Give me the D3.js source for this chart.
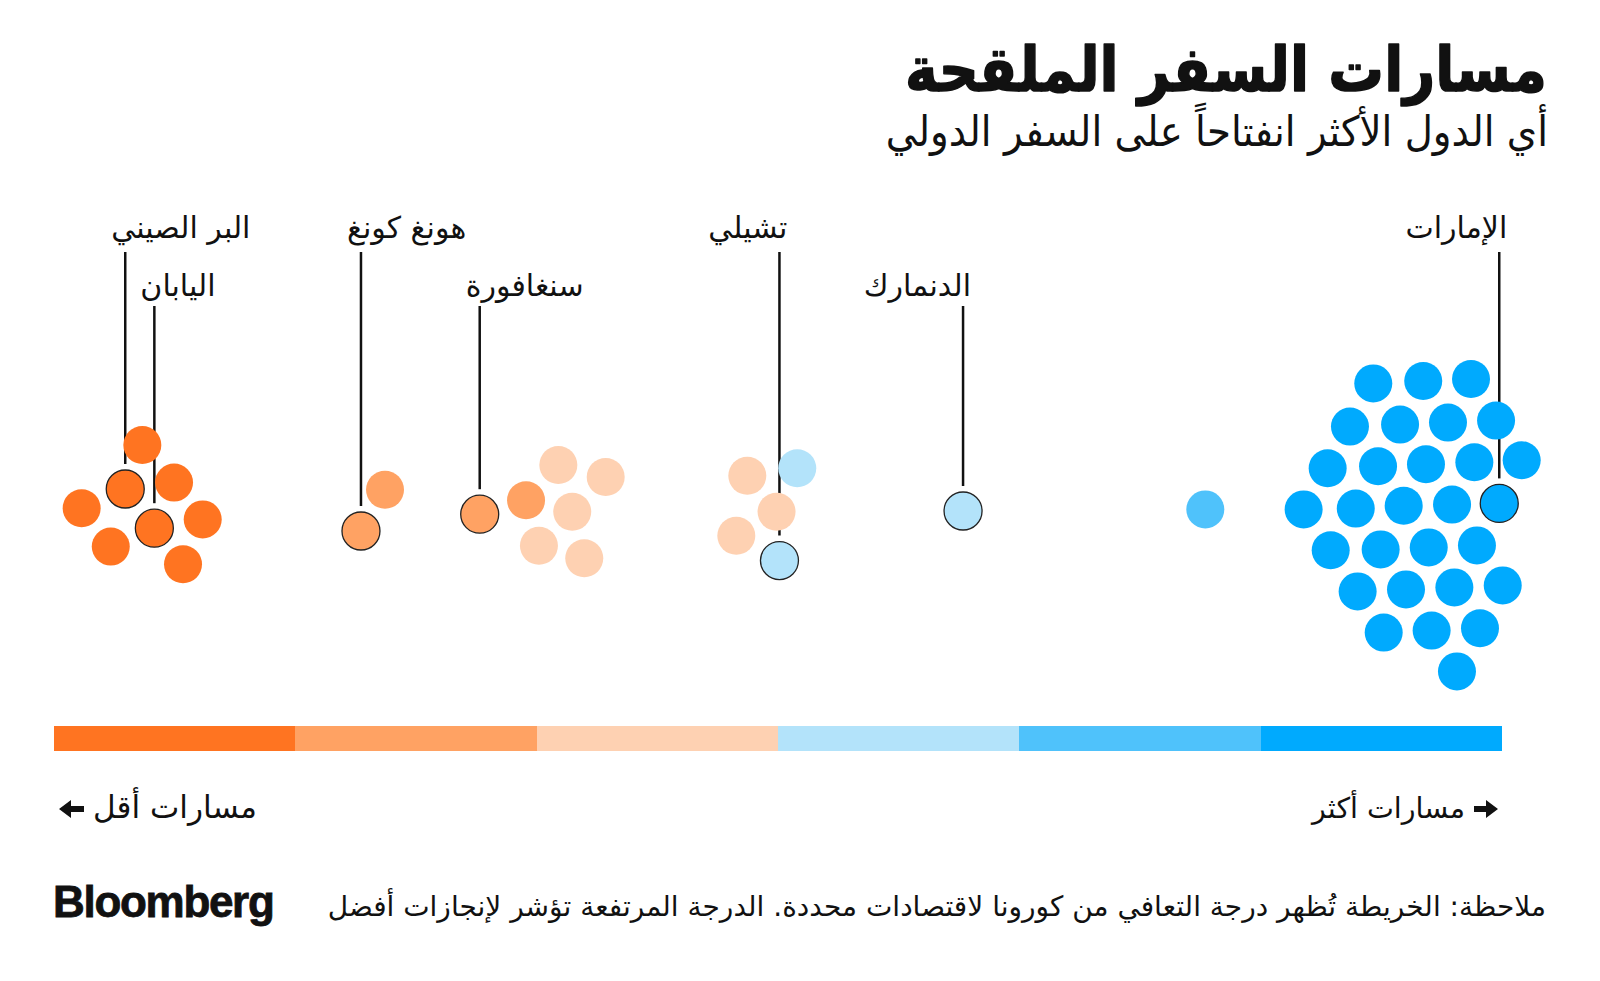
<!DOCTYPE html>
<html><head><meta charset="utf-8">
<script src="https://cdn.jsdelivr.net/npm/d3@7"></script>
<style>body{margin:0;background:#fff}text{font-family:"DejaVu Sans",sans-serif;fill:#111}</style>
</head><body><svg id="c" width="1600" height="981"></svg>
<script>
// ---- data ----
const binColors = ["#FF7421", "#FFA263", "#FED1B2", "#B3E3FA", "#4FC2FB", "#00AAFE"];
const scores = [6.10, 4.92, 8.29, 1.91, 6.93, 10.27, 3.92, 8.91,
  21.20, 22.86, 29.40, 32.60,
  34.83, 38.10, 35.79, 33.49, 36.62, 47.88, 49.90, 47.12,
  51.33, 50.10, 62.78,
  79.51,
  91.11, 94.56, 97.86,
  89.50, 92.96, 96.27, 99.59,
  87.96, 91.44, 94.75, 98.09, 101.36,
  86.30, 89.90, 93.21, 96.55, 99.81,
  88.17, 91.62, 94.94, 98.27,
  90.03, 93.37, 96.71, 100.05,
  91.83, 95.14, 98.48,
  96.89];
const swarmOffsets = [-1.55, -0.45, -0.61, 0.03, 0.53, 0.31, 0.99, 1.43,
  0.60, -0.43, 0.18, -0.17,
  -1.05, -0.75, 0.12, 0.97, 1.28, -0.78, 0.12, 0.72,
  -0.97, 1.34, 0.10,
  0.06,
  -3.09, -3.15, -3.20,
  -2.01, -2.06, -2.11, -2.16,
  -0.97, -1.02, -1.07, -1.12, -1.17,
  0.06, 0.04, -0.03, -0.06, -0.09,
  1.08, 1.06, 1.01, 0.96,
  2.11, 2.06, 2.01, 1.96,
  3.14, 3.09, 3.03,
  4.11];
const labelNames = ["البر الصيني", "اليابان", "هونغ كونغ", "سنغافورة", "تشيلي", "الدنمارك", "الإمارات"];
const labelIndex = [1, 4, 8, 10, 21, 22, 40];
const title = "مسارات السفر الملقحة";
const subtitle = "أي الدول الأكثر انفتاحاً على السفر الدولي";
const lessLabel = "مسارات أقل";
const moreLabel = "مسارات أكثر";
const note = "ملاحظة: الخريطة تُظهر درجة التعافي من كورونا لاقتصادات محددة. الدرجة المرتفعة تؤشر لإنجازات أفضل";

// ---- scales ----
const svg = d3.select("#c");
const x = d3.scaleLinear().domain([0, 100]).range([54, 1502]);
const y = d3.scaleLinear().domain([-1, 1]).range([467, 547]);
const color = d3.scaleQuantize().domain([0, 100]).range(binColors);
const R = 19;

function fit(sel, w) {
  const fs = parseFloat(sel.attr("font-size"));
  const len = sel.node().getComputedTextLength();
  sel.attr("font-size", fs * w / len);
  return sel;
}

// title
fit(svg.append("text").attr("text-anchor", "end")
  .attr("transform", "translate(1547,91) scale(1,1.12)")
  .attr("font-size", 56).attr("font-weight", "bold")
  .attr("stroke", "#111").attr("stroke-width", 1.4).attr("stroke-linejoin", "round").text(title), 642);
fit(svg.append("text").attr("text-anchor", "end")
  .attr("transform", "translate(1548,146) scale(1,1.08)")
  .attr("font-size", 34).text(subtitle), 662);

// leader lines
const pts = scores.map((s, i) => ({ s, o: swarmOffsets[i], i }));
const labels = labelNames.map((name, k) => {
  const d = pts[labelIndex[k]];
  const cx = x(d.s), cy = y(d.o);
  const tier = k % 2;
  return { name, cx, cy, tier, left: cx < 700 };
});
svg.append("g").selectAll("line").data(labels).join("line")
  .attr("x1", d => d.cx).attr("x2", d => d.cx)
  .attr("y1", d => d.tier ? 306 : 252)
  .attr("y2", d => d.cy - R - 6)
  .attr("stroke", "#111").attr("stroke-width", 2.5);

// circles
svg.append("g").selectAll("circle").data(pts).join("circle")
  .attr("cx", d => x(d.s)).attr("cy", d => y(d.o)).attr("r", R)
  .attr("fill", d => color(d.s));
svg.append("g").selectAll("circle").data(labels).join("circle")
  .attr("cx", d => d.cx).attr("cy", d => d.cy).attr("r", R)
  .attr("fill", "none").attr("stroke", "#222").attr("stroke-width", 1.3);

svg.append("g").selectAll("text").data(labels).join("text")
  .attr("x", d => d.left ? d.cx - 14 : d.cx + 8)
  .attr("y", d => d.tier ? 296 : 238)
  .attr("text-anchor", d => d.left ? "start" : "end")
  .attr("font-size", 30).text(d => d.name);

// color bar
const bins = d3.range(binColors.length).map(i => ({ a: i * 100 / 6, b: (i + 1) * 100 / 6, c: binColors[i] }));
svg.append("g").selectAll("rect").data(bins).join("rect")
  .attr("x", d => x(d.a)).attr("width", d => x(d.b) - x(d.a))
  .attr("y", 726).attr("height", 25).attr("fill", d => d.c).attr("shape-rendering", "crispEdges");

// arrows
function arrow(x0, x1, yc) {
  const dir = Math.sign(x1 - x0), head = 12, hw = 9, sw = 3;
  const p = d3.path();
  p.moveTo(x0, yc - sw); p.lineTo(x1 - dir * head, yc - sw); p.lineTo(x1 - dir * head, yc - hw);
  p.lineTo(x1, yc); p.lineTo(x1 - dir * head, yc + hw); p.lineTo(x1 - dir * head, yc + sw);
  p.lineTo(x0, yc + sw); p.closePath();
  svg.append("path").attr("d", p.toString()).attr("fill", "#111");
}
arrow(84, 59, 809);
arrow(1474, 1498, 809);
fit(svg.append("text").attr("x", 93).attr("y", 818).attr("text-anchor", "start")
  .attr("font-size", 28).text(lessLabel), 164);
fit(svg.append("text").attr("x", 1465).attr("y", 818).attr("text-anchor", "end")
  .attr("font-size", 28).text(moreLabel), 153);

// note + logo
fit(svg.append("text").attr("x", 1546).attr("y", 916).attr("text-anchor", "end")
  .attr("font-size", 24).text(note), 1219);
svg.append("text").attr("x", 53).attr("y", 917)
  .style("font-family", "Liberation Sans, Arial, sans-serif")
  .attr("font-weight", "bold").attr("font-size", 44).attr("letter-spacing", -1.3)
  .attr("stroke", "#111").attr("stroke-width", 0.8).text("Bloomberg");
</script></body></html>
